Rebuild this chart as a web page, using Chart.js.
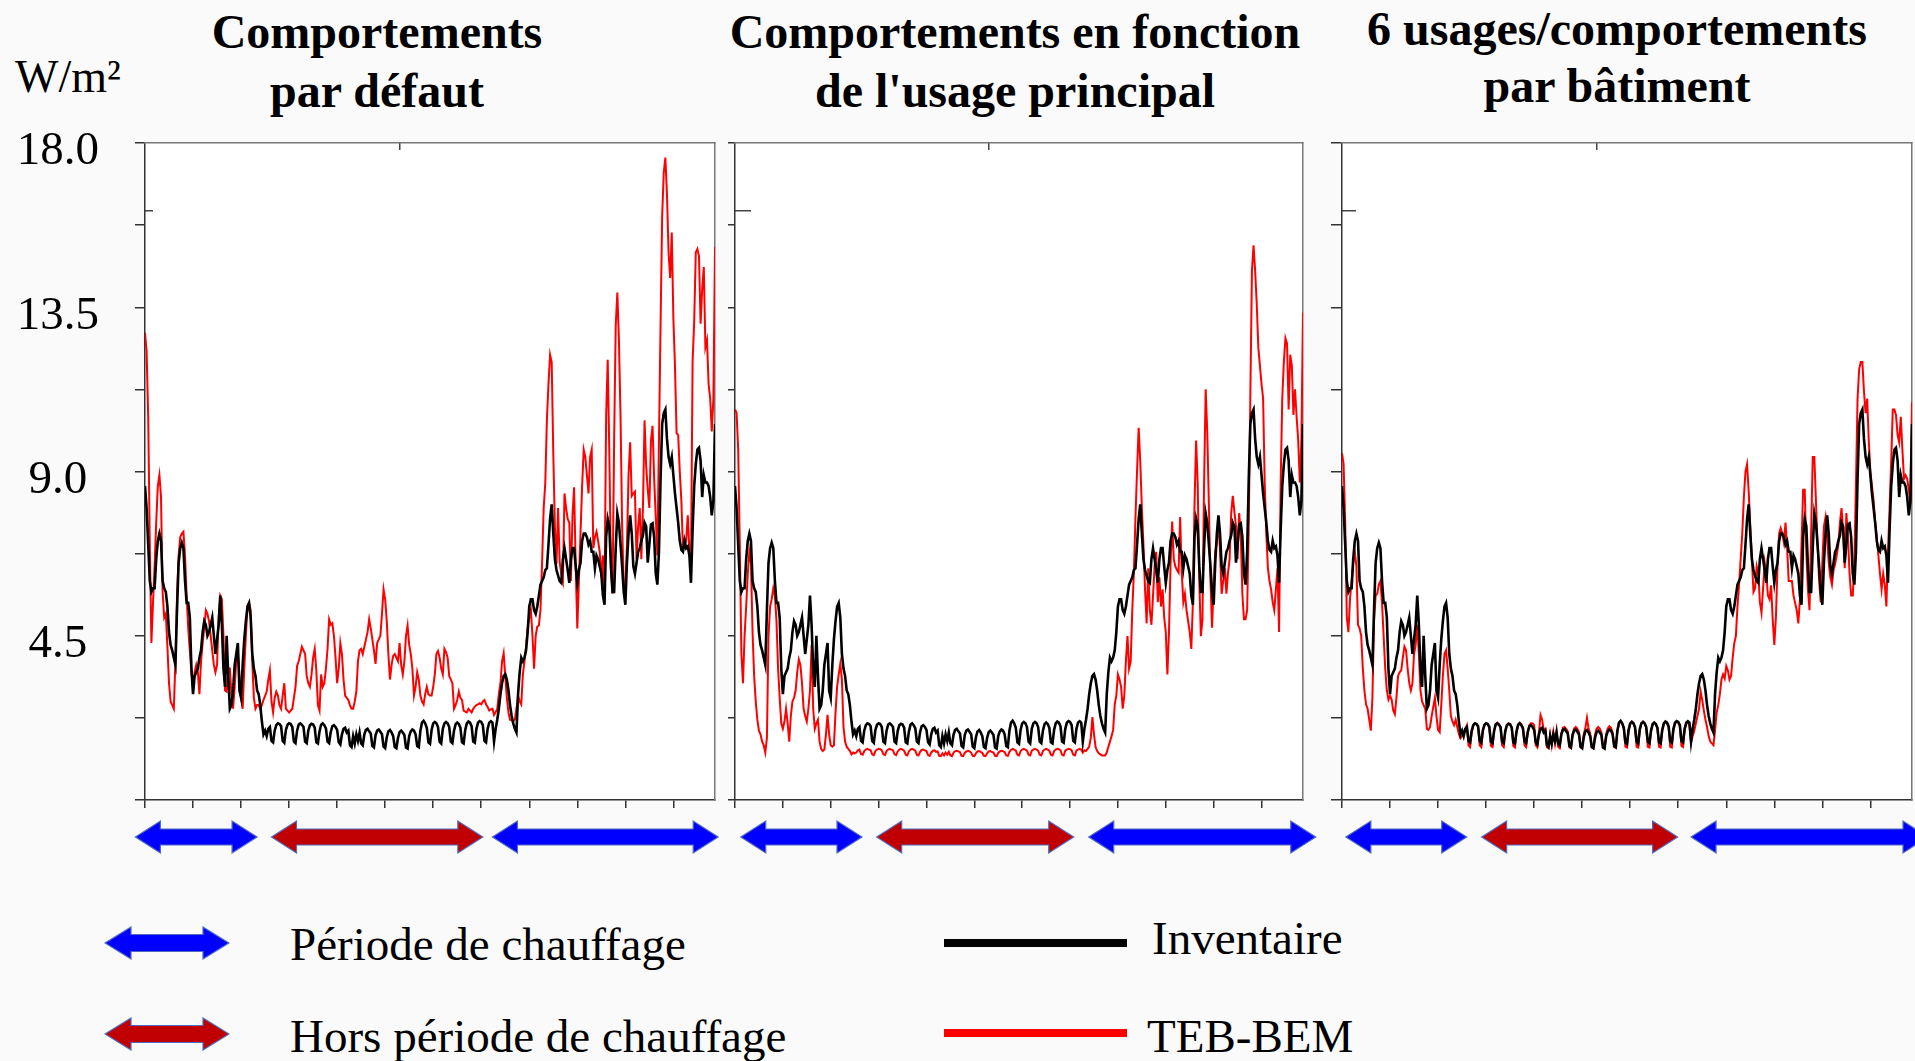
<!DOCTYPE html>
<html lang="fr">
<head>
<meta charset="utf-8">
<title>Besoins de chauffage journaliers – Inventaire / TEB-BEM</title>
<script src="https://cdn.jsdelivr.net/npm/chart.js@4.4.1/dist/chart.umd.min.js"></script>
<style>
  html, body { margin: 0; padding: 0; }
  body {
    width: 1915px; height: 1061px; position: relative; overflow: hidden;
    background: #fafafa; color: #000;
    font-family: "Liberation Serif", "Times New Roman", serif;
  }
  canvas { position: absolute; top: 0; }
  .titre {
    position: absolute; width: 640px; text-align: center; white-space: nowrap;
    font-weight: bold; font-size: 48px; line-height: 59px;
  }
  .texte { position: absolute; white-space: nowrap; font-size: 47px; line-height: 47px; }
  .trait { position: absolute; width: 183px; height: 8px; }
  svg.icone { position: absolute; }
</style>
</head>
<body>

<div class="texte" style="left:15px; top:54px; font-size:46px; line-height:46px;">W/m²</div>

<div class="titre" style="left:57px; top:2px;">Comportements<br>par défaut</div>
<div class="titre" style="left:695px; top:2px;">Comportements en fonction<br>de l'usage principal</div>
<div class="titre" style="left:1297px; top:0px; line-height:57px;">6 usages/comportements<br>par bâtiment</div>

<canvas id="panneauDefaut" width="722" height="870" style="left:0px;"></canvas>
<canvas id="panneauUsage" width="595" height="870" style="left:725px;"></canvas>
<canvas id="panneauBatiment" width="585" height="870" style="left:1330px;"></canvas>

<!-- Légende -->
<svg class="icone" style="left:104px; top:926px;" width="126" height="34" viewBox="0 0 126 34">
  <polygon points="1,17 27,1 27,8.5 99,8.5 99,1 125,17 99,33 99,25.5 27,25.5 27,33"
           fill="#0000ff" stroke="#4f6cc0" stroke-width="1.2"/>
</svg>
<div class="texte" style="left:290px; top:921px;">Période de chauffage</div>

<svg class="icone" style="left:104px; top:1017px;" width="126" height="34" viewBox="0 0 126 34">
  <polygon points="1,17 27,1 27,8.5 99,8.5 99,1 125,17 99,33 99,25.5 27,25.5 27,33"
           fill="#c00000" stroke="#4f6cc0" stroke-width="1.2"/>
</svg>
<div class="texte" style="left:290px; top:1013px;">Hors période de chauffage</div>

<div class="trait" style="left:944px; top:939px; background:#000;"></div>
<div class="texte" style="left:1152px; top:915px;">Inventaire</div>
<div class="trait" style="left:944px; top:1029px; background:#ff0000;"></div>
<div class="texte" style="left:1147px; top:1013px;">TEB-BEM</div>

<script>
// Flux journaliers (W/m²), jour 0 à 356
const inventaire = [
  8.6, 8.0, 7.0, 6.0, 5.7, 5.8, 5.8, 6.6, 7.1, 7.3,
  7.1, 6.0, 5.8, 5.7, 5.3, 4.6, 4.25, 4.1, 3.9, 3.7,
  5.2, 6.5, 6.9, 7.05, 6.9, 6.0, 5.4, 5.4, 5.0, 3.6,
  2.9, 3.4, 3.5, 3.6, 3.9, 4.1, 4.6, 4.9, 4.8, 4.5,
  4.6, 4.8, 5.0, 4.5, 4.0, 4.4, 4.8, 5.6, 4.8, 3.6,
  3.1, 4.5, 3.4, 2.5, 2.6, 3.0, 3.7, 4.0, 4.3, 3.0,
  2.8, 3.7, 4.4, 4.9, 5.3, 5.4, 5.0, 4.0, 3.6, 3.4,
  3.0, 2.9, 2.6, 2.15, 1.8, 1.9, 1.75, 1.95, 2.0, 1.62,
  1.58, 1.9, 2.05, 2.1, 2.08, 2.02, 1.62, 1.57, 1.92, 2.06,
  2.1, 2.08, 2.0, 1.6, 1.56, 1.9, 2.07, 2.1, 2.06, 2.0,
  1.6, 1.56, 1.9, 2.05, 2.09, 2.07, 1.98, 1.58, 1.55, 1.88,
  2.06, 2.1, 2.05, 1.96, 1.6, 1.56, 1.86, 2.02, 2.05, 2.0,
  1.92, 1.58, 1.52, 1.8, 1.95, 1.98, 1.85, 1.9, 1.5, 1.45,
  1.75, 1.55, 1.8, 1.62, 1.85, 1.55, 1.5, 1.8, 1.92, 1.95,
  1.88, 1.82, 1.48, 1.44, 1.78, 1.9, 1.93, 1.87, 1.8, 1.46,
  1.42, 1.72, 1.88, 1.92, 1.85, 1.75, 1.45, 1.42, 1.7, 1.86,
  1.9, 1.85, 1.78, 1.44, 1.41, 1.75, 1.88, 1.93, 1.9, 1.8,
  1.48, 1.45, 1.9, 2.12, 2.17, 2.1, 1.98, 1.58, 1.54, 1.92,
  2.1, 2.14, 2.1, 2.0, 1.6, 1.55, 1.95, 2.1, 2.14, 2.1,
  2.0, 1.6, 1.56, 1.9, 2.08, 2.12, 2.08, 1.98, 1.58, 1.55,
  1.92, 2.1, 2.15, 2.12, 2.02, 1.6, 1.57, 1.95, 2.12, 2.16,
  2.14, 2.05, 1.62, 1.58, 1.95, 2.12, 2.16, 2.12, 1.6, 1.95,
  2.2, 2.5, 2.9, 3.2, 3.4, 3.45, 3.3, 3.0, 2.6, 2.3,
  2.1, 1.95, 1.85, 2.9, 3.5, 3.9, 3.8, 3.9, 4.1, 4.6,
  5.3, 5.5, 5.5, 5.2, 5.1, 5.3, 5.6, 5.9, 6.0, 6.1,
  6.3, 6.35, 7.0, 7.7, 8.1, 7.3, 6.6, 6.3, 6.15, 6.0,
  5.95, 6.6, 6.9, 6.6, 6.3, 5.95, 6.6, 6.9, 6.9, 6.4,
  5.95, 6.3, 6.5, 7.1, 7.3, 7.3, 7.2, 7.0, 7.1, 6.8,
  6.8, 6.35, 6.7, 6.6, 6.4, 6.2, 5.6, 5.35, 7.2, 7.7,
  7.5, 6.4, 5.7, 5.7, 6.9, 7.85, 7.6, 7.0, 6.4, 5.7,
  5.35, 6.5, 7.3, 7.8, 7.3, 6.4, 6.2, 6.5, 6.8, 6.9,
  7.1, 7.25, 7.6, 7.5, 6.5, 7.0, 7.55, 7.58, 7.2, 6.2,
  5.9, 6.8, 8.8, 10.3, 10.6, 10.7, 9.9, 9.4, 9.2, 9.4,
  8.9, 8.4, 8.0, 7.6, 7.1, 6.85, 6.8, 7.1, 6.9, 6.95,
  6.7, 5.95, 7.4, 8.6, 9.2, 9.6, 9.65, 9.3, 8.3, 8.9,
  8.7, 8.7, 8.6, 8.3, 7.8, 8.2, 10.3
];

const tebDefaut = [
  12.8, 12.3, 10.5, 7.0, 4.3, 5.4, 6.4, 7.6, 8.6, 8.9,
  8.3, 5.7, 5.0, 5.1, 4.2, 3.2, 2.7, 2.6, 2.5, 3.8,
  5.6, 6.7, 7.2, 7.3, 7.35, 6.7, 5.6, 4.7, 4.1, 3.5,
  3.0, 3.5, 3.7, 3.5, 2.9, 3.8, 4.3, 4.7, 5.2, 5.1,
  4.9, 4.5, 4.1, 3.7, 3.5, 3.7, 5.0, 5.6, 5.5, 4.5,
  3.0, 2.97, 3.6, 3.6, 2.9, 2.5, 3.1, 3.8, 4.0, 3.4,
  2.8, 2.5, 3.6, 4.5, 5.3, 5.4, 5.2, 3.8, 2.8, 2.5,
  2.6, 2.6, 2.5, 2.6, 2.74, 2.85, 2.97, 3.3, 3.55, 2.7,
  2.4, 2.8, 2.97, 2.86, 2.6, 2.5, 2.86, 3.2, 2.5, 2.45,
  2.4, 2.45, 2.5, 2.8, 3.1, 3.67, 3.8, 4.0, 4.2, 4.1,
  4.0, 3.4, 3.2, 3.1, 3.44, 3.9, 4.14, 3.55, 2.6, 2.45,
  3.44, 3.1, 3.2, 3.6, 4.14, 4.95, 4.8, 4.84, 4.5, 3.9,
  3.2, 3.6, 4.3, 4.0, 3.3, 2.86, 2.8, 2.74, 2.6, 2.5,
  2.5, 2.7, 2.97, 3.8, 4.1, 4.14, 4.0, 4.2, 4.4, 4.6,
  4.95, 4.7, 4.4, 4.1, 3.73, 4.3, 4.4, 4.5, 5.1, 5.77,
  5.5, 4.9, 4.0, 3.3, 3.7, 3.95, 4.0, 3.9, 3.8, 4.3,
  3.7, 3.44, 3.8, 4.5, 4.78, 4.25, 4.0, 3.6, 2.86, 3.1,
  3.5, 3.3, 2.86, 2.7, 2.62, 2.9, 3.1, 2.9, 2.86, 2.86,
  3.1, 3.44, 4.0, 4.08, 3.9, 3.6, 3.44, 4.14, 4.05, 3.9,
  3.4, 3.3, 3.2, 2.5, 2.6, 2.74, 2.97, 2.8, 2.74, 2.45,
  2.42, 2.4, 2.5, 2.45, 2.4, 2.5, 2.56, 2.6, 2.62, 2.65,
  2.62, 2.7, 2.74, 2.62, 2.55, 2.45, 2.48, 2.5, 2.33, 2.4,
  2.5, 2.9, 3.2, 3.8, 4.02, 3.4, 2.8, 2.4, 2.2, 2.18,
  2.16, 2.2, 2.5, 2.86, 2.7, 2.62, 3.44, 3.8, 4.2, 4.72,
  5.0, 5.2, 4.5, 3.6, 4.5, 4.75, 4.78, 5.2, 6.5, 8.0,
  8.68, 10.4, 11.4, 12.2, 12.0, 9.5, 7.5, 6.47, 8.0, 6.5,
  6.2, 6.0, 8.4, 8.0, 7.7, 7.6, 6.0, 7.8, 8.57, 6.4,
  4.7, 6.0, 7.3, 8.6, 9.6, 9.4, 8.9, 8.4, 9.4, 9.6,
  6.9, 7.2, 7.35, 7.1, 6.8, 6.12, 6.7, 5.65, 10.5, 12.06,
  9.5, 6.4, 5.65, 9.85, 13.0, 13.9, 12.6, 10.5, 7.5, 5.9,
  5.77, 7.0, 8.9, 9.8, 8.33, 8.4, 8.45, 6.6, 7.5, 8.0,
  6.6, 8.0, 10.4, 9.15, 8.5, 8.0, 9.85, 10.25, 8.8, 7.75,
  6.7, 9.85, 13.0, 16.0, 17.2, 17.6, 16.6, 15.0, 14.3, 15.55,
  13.2, 11.9, 10.05, 10.0, 9.0, 8.2, 6.85, 7.15, 7.1, 7.8,
  6.85, 6.35, 12.0, 13.1, 15.0, 15.1, 14.9, 13.05, 14.0, 14.6,
  12.4, 12.6, 11.4, 11.0, 10.1, 11.0, 15.15
];

const tebUsage = [
  10.7, 10.6, 9.6, 7.0, 4.0, 3.2, 4.5, 5.3, 6.2, 6.8,
  6.5, 4.6, 3.4, 2.7, 2.2, 1.9, 1.8, 1.6, 1.5, 1.3,
  1.7, 4.5, 5.3, 5.5, 5.8, 5.6, 4.9, 3.6, 2.8, 2.1,
  1.95, 2.15, 2.5, 2.1, 1.6, 2.3, 2.7, 2.8, 3.0, 3.5,
  3.85, 3.7, 3.2, 2.5, 2.3, 2.15, 2.5, 3.0, 4.25, 2.5,
  1.95, 2.1, 2.2, 1.6, 1.4, 1.34, 1.38, 1.8, 2.33, 1.8,
  1.5, 1.46, 1.5, 2.4, 3.1, 3.44, 3.73, 3.3, 2.0, 1.6,
  1.46, 1.4, 1.35, 1.25, 1.3, 1.28, 1.3, 1.36, 1.38, 1.26,
  1.24, 1.34, 1.38, 1.4, 1.38, 1.36, 1.25, 1.23, 1.34, 1.38,
  1.4, 1.39, 1.36, 1.25, 1.23, 1.34, 1.38, 1.4, 1.38, 1.36,
  1.25, 1.23, 1.33, 1.38, 1.4, 1.38, 1.35, 1.24, 1.22, 1.33,
  1.38, 1.4, 1.38, 1.35, 1.24, 1.22, 1.32, 1.37, 1.38, 1.36,
  1.34, 1.23, 1.21, 1.3, 1.35, 1.36, 1.32, 1.33, 1.21, 1.2,
  1.28, 1.22, 1.3, 1.24, 1.32, 1.22, 1.2, 1.3, 1.34, 1.35,
  1.33, 1.31, 1.21, 1.2, 1.29, 1.33, 1.35, 1.33, 1.3, 1.21,
  1.2, 1.28, 1.33, 1.34, 1.32, 1.29, 1.21, 1.2, 1.28, 1.33,
  1.34, 1.32, 1.3, 1.21, 1.2, 1.29, 1.33, 1.35, 1.34, 1.31,
  1.22, 1.21, 1.32, 1.37, 1.4, 1.38, 1.35, 1.24, 1.22, 1.34,
  1.38, 1.4, 1.38, 1.35, 1.24, 1.22, 1.35, 1.38, 1.4, 1.38,
  1.35, 1.24, 1.22, 1.34, 1.38, 1.4, 1.38, 1.35, 1.24, 1.22,
  1.34, 1.38, 1.4, 1.39, 1.36, 1.24, 1.22, 1.35, 1.38, 1.4,
  1.39, 1.36, 1.24, 1.22, 1.35, 1.38, 1.4, 1.38, 1.3, 1.36,
  1.34, 1.4, 1.46, 1.7, 2.27, 1.8, 1.45, 1.34, 1.28, 1.25,
  1.22, 1.22, 1.22, 1.3, 1.46, 1.6, 1.75, 1.92, 2.62, 2.86,
  3.44, 3.3, 3.1, 2.5, 2.86, 3.8, 4.49, 3.6, 3.8, 5.2,
  6.23, 7.75, 9.03, 10.2, 9.27, 8.0, 7.0, 5.77, 4.84, 6.35,
  5.2, 4.8, 5.6, 6.4, 6.8, 5.42, 6.1, 5.3, 5.77, 5.0,
  4.6, 3.44, 4.6, 6.47, 7.63, 6.6, 6.4, 6.3, 6.23, 7.75,
  6.23, 5.42, 5.65, 5.2, 4.9, 4.6, 4.14, 5.42, 8.1, 9.85,
  8.68, 6.0, 4.49, 4.95, 8.68, 11.25, 10.07, 8.1, 6.0, 4.72,
  5.9, 6.8, 7.05, 7.63, 6.8, 5.65, 6.0, 6.35, 5.65, 6.23,
  6.6, 7.86, 8.33, 7.9, 7.5, 6.6, 7.86, 7.27, 5.65, 4.95,
  4.95, 5.2, 7.5, 11.1, 14.5, 15.2, 14.5, 13.6, 12.4, 11.9,
  11.4, 11.0, 8.68, 7.3, 6.35, 6.0, 5.77, 5.42, 5.2, 5.77,
  6.35, 4.6, 8.68, 11.0, 12.0, 12.65, 12.5, 10.7, 12.2, 11.9,
  10.55, 11.25, 10.5, 9.85, 8.7, 9.85, 13.35
];

const tebBatiment = [
  9.5, 9.2, 7.6, 5.0, 4.6, 5.5, 6.0, 6.5, 6.8, 6.4,
  4.8, 4.7, 4.5, 3.6, 3.0, 2.62, 2.5, 2.2, 1.9, 2.8,
  4.9, 5.6, 5.65, 5.9, 6.0, 5.4, 4.5, 3.6, 3.0, 2.75,
  2.86, 2.75, 2.45, 2.35, 2.8, 3.4, 3.5, 3.55, 3.9, 4.2,
  4.1, 3.6, 3.2, 3.0, 3.2, 4.0, 4.25, 4.8, 4.0, 3.0,
  2.7, 2.6, 2.5, 1.95, 1.92, 2.0, 2.3, 2.55, 2.8, 2.3,
  1.92, 1.86, 2.6, 3.4, 4.0, 4.1, 3.6, 3.0, 2.3, 2.15,
  2.05, 2.2, 2.0, 1.8, 1.69, 1.75, 1.8, 1.95, 2.05, 1.5,
  1.45, 1.85, 2.05, 2.1, 2.08, 2.0, 1.5, 1.45, 1.88, 2.06,
  2.1, 2.08, 2.0, 1.48, 1.45, 1.88, 2.08, 2.12, 2.08, 2.0,
  1.5, 1.45, 1.86, 2.06, 2.1, 2.08, 1.98, 1.48, 1.44, 1.85,
  2.06, 2.12, 2.08, 1.98, 1.5, 1.45, 1.84, 2.05, 2.1, 2.1,
  2.05, 1.5, 1.44, 1.85, 2.33, 2.2, 1.9, 1.95, 1.45, 1.42,
  1.8, 1.5, 1.85, 1.55, 1.9, 1.46, 1.42, 1.82, 1.98, 2.0,
  1.95, 1.88, 1.44, 1.42, 1.8, 1.96, 2.0, 1.95, 1.86, 1.44,
  1.42, 1.8, 1.98, 2.25, 1.95, 1.82, 1.44, 1.42, 1.78, 1.95,
  2.0, 1.96, 1.85, 1.43, 1.42, 1.8, 1.96, 2.02, 1.98, 1.86,
  1.45, 1.43, 1.88, 2.1, 2.15, 2.1, 1.96, 1.46, 1.44, 1.9,
  2.08, 2.15, 2.1, 1.98, 1.46, 1.44, 1.9, 2.1, 2.15, 2.1,
  1.98, 1.46, 1.44, 1.88, 2.08, 2.12, 2.08, 1.96, 1.46, 1.44,
  1.9, 2.08, 2.14, 2.1, 2.0, 1.46, 1.44, 1.92, 2.1, 2.14,
  2.12, 2.02, 1.48, 1.45, 1.92, 2.1, 2.12, 2.05, 1.57, 1.75,
  1.9, 2.1, 2.3, 2.5, 2.97, 2.74, 2.45, 2.2, 2.0, 1.75,
  1.6, 1.55, 1.5, 1.9, 2.4, 2.6, 2.9, 3.3, 3.44, 3.33,
  3.67, 3.55, 3.3, 3.4, 3.9, 4.3, 4.49, 5.3, 5.9, 6.6,
  7.3, 8.3, 9.0, 9.2, 8.45, 7.5, 6.6, 5.7, 5.8, 6.4,
  6.2, 5.42, 5.13, 5.8, 6.5, 6.2, 5.6, 5.5, 5.88, 4.95,
  4.25, 5.0, 6.4, 7.3, 7.45, 7.3, 7.05, 7.6, 6.9, 6.0,
  6.0, 6.0, 5.6, 5.4, 5.2, 4.84, 5.5, 7.0, 8.5, 8.5,
  6.8, 5.77, 5.2, 7.3, 9.4, 9.4, 8.2, 7.0, 6.0, 5.42,
  6.5, 7.5, 7.75, 7.2, 6.5, 6.1, 5.9, 6.3, 6.47, 6.7,
  7.0, 7.6, 8.0, 7.3, 6.35, 7.86, 7.2, 6.2, 5.6, 5.6,
  6.5, 8.68, 11.0, 11.8, 12.0, 12.0, 11.2, 10.6, 11.0, 9.85,
  9.0, 8.6, 8.2, 7.6, 7.2, 6.7, 6.2, 5.77, 6.2, 5.9,
  5.3, 6.8, 8.0, 9.27, 10.7, 10.7, 10.55, 10.0, 9.8, 10.5,
  9.6, 8.8, 8.9, 8.8, 8.5, 8.1, 10.9
];

// Numéro du jour (abscisse)
const jours = Array.from({ length: inventaire.length }, (_, i) => i);

// Graduations de l'axe des ordonnées
const pasOrdonnees = 2.25;
const etiquettesOrdonnees = ['4.5', '9.0', '13.5', '18.0'];

// Périodes (en jours) représentées par les flèches sous chaque panneau
const periodesDefaut   = [[-6, 70, 'chauffage'], [79, 211, 'hors'], [217, 358, 'chauffage']];
const periodesUsage    = [[3.6, 79.6, 'chauffage'], [88.8, 212.3, 'hors'], [221.7, 364, 'chauffage']];
const periodesBatiment = [[2.4, 77.9, 'chauffage'], [87.2, 209.6, 'hors'], [218, 366, 'chauffage']];

// Fond blanc de la zone de tracé
const fondZone = {
  id: 'fondZone',
  beforeDraw(chart) {
    const { ctx, chartArea: a } = chart;
    ctx.save();
    ctx.fillStyle = '#ffffff';
    ctx.fillRect(a.left, a.top, a.right - a.left, a.bottom - a.top);
    ctx.restore();
  }
};

// Flèches doubles des périodes de chauffage, placées sous l'axe des abscisses
const flechesPeriodes = {
  id: 'flechesPeriodes',
  afterDraw(chart, args, opts) {
    const { ctx, chartArea, scales } = chart;
    const x = scales.x;
    const yc = chartArea.bottom + 37;
    const L = 25, H = 16, h = 8;
    ctx.save();
    for (const [debut, fin, type] of opts.periodes) {
      const x0 = x.getPixelForValue(debut);
      const x1 = x.getPixelForValue(fin);
      ctx.beginPath();
      ctx.moveTo(x0, yc);
      ctx.lineTo(x0 + L, yc - H);
      ctx.lineTo(x0 + L, yc - h);
      ctx.lineTo(x1 - L, yc - h);
      ctx.lineTo(x1 - L, yc - H);
      ctx.lineTo(x1, yc);
      ctx.lineTo(x1 - L, yc + H);
      ctx.lineTo(x1 - L, yc + h);
      ctx.lineTo(x0 + L, yc + h);
      ctx.lineTo(x0 + L, yc + H);
      ctx.closePath();
      ctx.fillStyle = type === 'chauffage' ? '#0000ff' : '#c00000';
      ctx.fill();
      ctx.strokeStyle = '#4f6cc0';
      ctx.lineWidth = 1.2;
      ctx.stroke();
    }
    ctx.restore();
  }
};

function panneau(id, serie, periodes, cfg) {
  const axeY = {
    type: 'linear', position: 'left', min: 0, max: 18,
    ticks: {
      display: cfg.etiquettes,
      stepSize: pasOrdonnees,
      autoSkip: false,
      color: '#000',
      font: { family: '"Liberation Serif", "Times New Roman", serif', size: 47 },
      crossAlign: 'center',
      padding: 36,
      labelOffset: 9,
      callback: (v) => {
        const t = v.toFixed(1);
        return etiquettesOrdonnees.includes(t) ? t : '';
      }
    },
    grid: { drawOnChartArea: false, drawTicks: true, tickLength: cfg.tickY, color: '#333', lineWidth: 1.5 },
    border: { display: true, color: '#333', width: 1.5 },
    afterFit: (s) => { s.width = cfg.largeurY; }
  };

  return new Chart(document.getElementById(id), {
    type: 'line',
    data: {
      labels: jours,
      datasets: [
        { label: 'Inventaire', data: inventaire, xAxisID: 'x', yAxisID: 'y',
          borderColor: '#000000', borderWidth: 2.6, pointRadius: 0, tension: 0 },
        { label: 'TEB-BEM', data: serie, xAxisID: 'x', yAxisID: 'y',
          borderColor: '#ff0000', borderWidth: 2.0, pointRadius: 0, tension: 0 }
      ]
    },
    options: {
      responsive: false,
      animation: false,
      events: [],
      devicePixelRatio: 1,
      layout: { padding: { top: 143, right: cfg.margeDroite, bottom: 0, left: 0 } },
      plugins: {
        legend: { display: false },
        tooltip: { enabled: false },
        title: { display: false },
        flechesPeriodes: { periodes }
      },
      scales: {
        x: {
          type: 'linear', position: 'bottom', min: 0, max: 356,
          ticks: { display: false, stepSize: 30, includeBounds: false, autoSkip: false },
          grid: { drawOnChartArea: false, drawTicks: true, tickLength: 8, color: '#333', lineWidth: 1.5 },
          border: { display: true, color: '#333', width: 1.5 },
          afterFit: (s) => { s.height = 70; }
        },
        y: axeY,
        xHaut: {
          type: 'linear', position: 'top', min: 0, max: 356,
          afterBuildTicks: (s) => { s.ticks = [{ value: 159 }]; },
          ticks: { display: false },
          grid: { drawOnChartArea: false, drawTicks: true, tickLength: -7, color: '#444', lineWidth: 1.5 },
          border: { display: true, color: '#777', width: 1.5 },
          afterFit: (s) => { s.height = 0; }
        },
        yInterne: {
          type: 'linear', position: 'left', weight: -1, min: 0, max: 18,
          afterBuildTicks: (s) => { s.ticks = [{ value: 16.14 }]; },
          ticks: { display: false },
          grid: { drawOnChartArea: false, drawTicks: true, tickLength: -cfg.tickInterne, color: '#444', lineWidth: 1.5 },
          border: { display: false },
          afterFit: (s) => { s.width = 0; }
        },
        yDroite: {
          type: 'linear', position: 'right', min: 0, max: 18,
          ticks: { display: false },
          grid: { display: false, drawTicks: false },
          border: { display: true, color: '#777', width: 1.5 },
          afterFit: (s) => { s.width = 0; }
        }
      }
    },
    plugins: [fondZone, flechesPeriodes]
  });
}

panneau('panneauDefaut', tebDefaut, periodesDefaut,
  { etiquettes: true, largeurY: 145, tickY: 10, tickInterne: 8, margeDroite: 7 });
panneau('panneauUsage', tebUsage, periodesUsage,
  { etiquettes: false, largeurY: 10, tickY: 7, tickInterne: 16, margeDroite: 17 });
panneau('panneauBatiment', tebBatiment, periodesBatiment,
  { etiquettes: false, largeurY: 12, tickY: 11, tickInterne: 14, margeDroite: 3 });
</script>
</body>
</html>
